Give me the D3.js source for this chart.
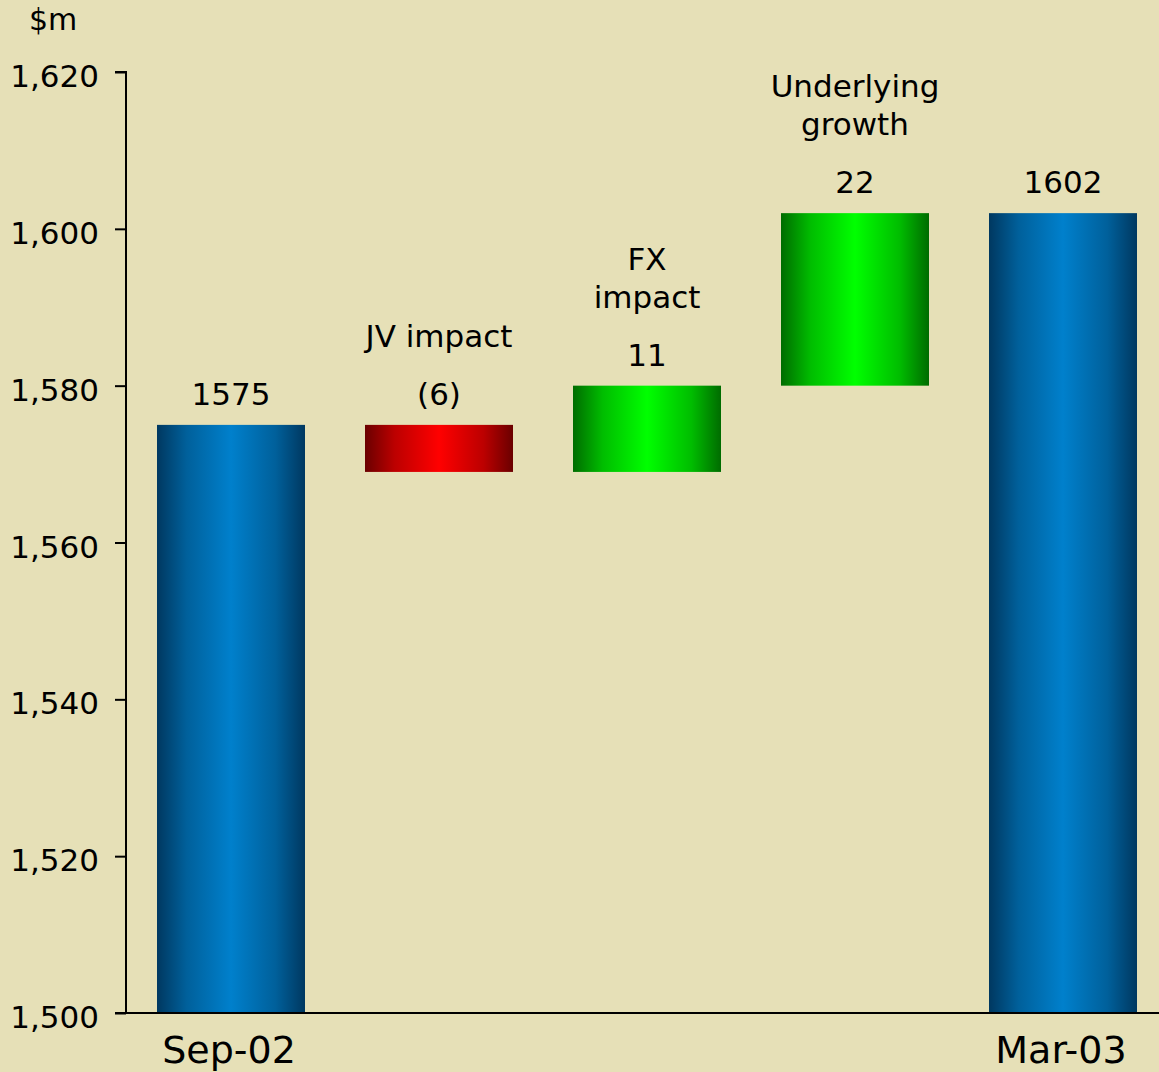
<!DOCTYPE html>
<html>
<head>
<meta charset="utf-8">
<script src="https://cdn.jsdelivr.net/npm/d3@7"></script>
<style>
  html, body { margin: 0; padding: 0; background: #e6e0b7; }
  svg { display: block; }
  text { font-family: "DejaVu Sans", Verdana, sans-serif; fill: #000; }
</style>
</head>
<body>
<svg id="chart" width="1159" height="1072"></svg>
<script>
// Revenue bridge, $m
const categories = ["Sep-02", "JV impact", "FX impact", "Underlying growth", "Mar-03"];
const categoryLines = [["Sep-02"], ["JV impact"], ["FX", "impact"], ["Underlying", "growth"], ["Mar-03"]];
const values = [1575, -6, 11, 22, 1602];
const kinds = ["total", "delta", "delta", "delta", "total"];
const yTicks = [1500, 1520, 1540, 1560, 1580, 1600, 1620];

const W = 1159, H = 1072;
const svg = d3.select("#chart");

// Build waterfall segments from the values
let running = 0;
const bars = categories.map((c, i) => {
  let lo, hi;
  if (kinds[i] === "total") {
    lo = 1500; hi = values[i]; running = values[i];
  } else {
    const start = running, end = running + values[i];
    lo = Math.min(start, end); hi = Math.max(start, end); running = end;
  }
  return { cat: c, lines: categoryLines[i], value: values[i], kind: kinds[i], lo, hi };
});

const y = d3.scaleLinear().domain([1500, 1620]).range([1013, 72]);
const x = d3.scaleBand().domain(categories).range([127, 1167])
  .paddingInner(60 / 208).paddingOuter(30 / 208);

// Gradients: dark edges, bright centre
const defs = svg.append("defs");
function grad(id, edge, mid) {
  const g = defs.append("linearGradient").attr("id", id)
    .attr("x1", "0%").attr("x2", "100%").attr("y1", "0%").attr("y2", "0%");
  [[0, edge], [0.2, d3.interpolateRgb(edge, mid)(0.55)], [0.5, mid],
   [0.8, d3.interpolateRgb(edge, mid)(0.55)], [1, edge]].forEach(([o, c]) =>
    g.append("stop").attr("offset", o).attr("stop-color", c));
}
grad("gBlue", "#003860", "#0080cc");
grad("gRed", "#6a0000", "#ff0000");
grad("gGreen", "#006c00", "#00ff00");

function fillFor(d) {
  if (d.kind === "total") return "url(#gBlue)";
  return d.value < 0 ? "url(#gRed)" : "url(#gGreen)";
}

svg.append("g").selectAll("rect").data(bars).join("rect")
  .attr("x", d => x(d.cat))
  .attr("width", x.bandwidth())
  .attr("y", d => y(d.hi))
  .attr("height", d => y(d.lo) - y(d.hi))
  .attr("fill", fillFor);

// Y axis
const yAxis = d3.axisLeft(y).tickValues(yTicks).tickFormat(d3.format(",")).tickSize(11).tickPadding(16);
const gy = svg.append("g").attr("transform", "translate(126,0)").call(yAxis);
gy.select(".domain").attr("stroke", "#000").attr("stroke-width", 2).attr("d", `M-11,${y(1620)}H0V${y(1500)}`);
gy.selectAll(".tick line").attr("stroke", "#000").attr("stroke-width", 2);
gy.selectAll(".tick text").attr("font-size", 31).attr("dy", "0.47em")
  .style("font-family", '"DejaVu Sans", Verdana, sans-serif');

// X baseline
svg.append("line").attr("x1", 115).attr("x2", W).attr("y1", y(1500)).attr("y2", y(1500))
  .attr("stroke", "#000").attr("stroke-width", 2);

// Unit label
svg.append("text").attr("x", 29).attr("y", 30).attr("font-size", 30).text("$m");

// Axis labels for the totals
svg.append("g").selectAll("text").data(bars.filter(d => d.kind === "total")).join("text")
  .attr("x", d => x(d.cat) + x.bandwidth() / 2 - 2)
  .attr("y", 1063)
  .attr("text-anchor", "middle").attr("font-size", 38)
  .text(d => d.cat);

// Value labels above each bar
const fmtVal = d => d.value < 0 ? `(${Math.abs(d.value)})` : String(d.value);
svg.append("g").selectAll("text").data(bars).join("text")
  .attr("x", d => x(d.cat) + x.bandwidth() / 2)
  .attr("y", d => y(d.hi) - 20)
  .attr("text-anchor", "middle").attr("font-size", 31)
  .text(fmtVal);

// Category labels above the movement bars
const lineH = 38;
bars.filter(d => d.kind === "delta").forEach(d => {
  const base = y(d.hi) - 20 - 58;
  const t = svg.append("text")
    .attr("text-anchor", "middle").attr("font-size", 31)
    .attr("x", x(d.cat) + x.bandwidth() / 2);
  const n = d.lines.length;
  d.lines.forEach((l, i) => {
    t.append("tspan").attr("x", x(d.cat) + x.bandwidth() / 2)
      .attr("y", base - (n - 1 - i) * lineH).text(l);
  });
});
</script>
</body>
</html>
